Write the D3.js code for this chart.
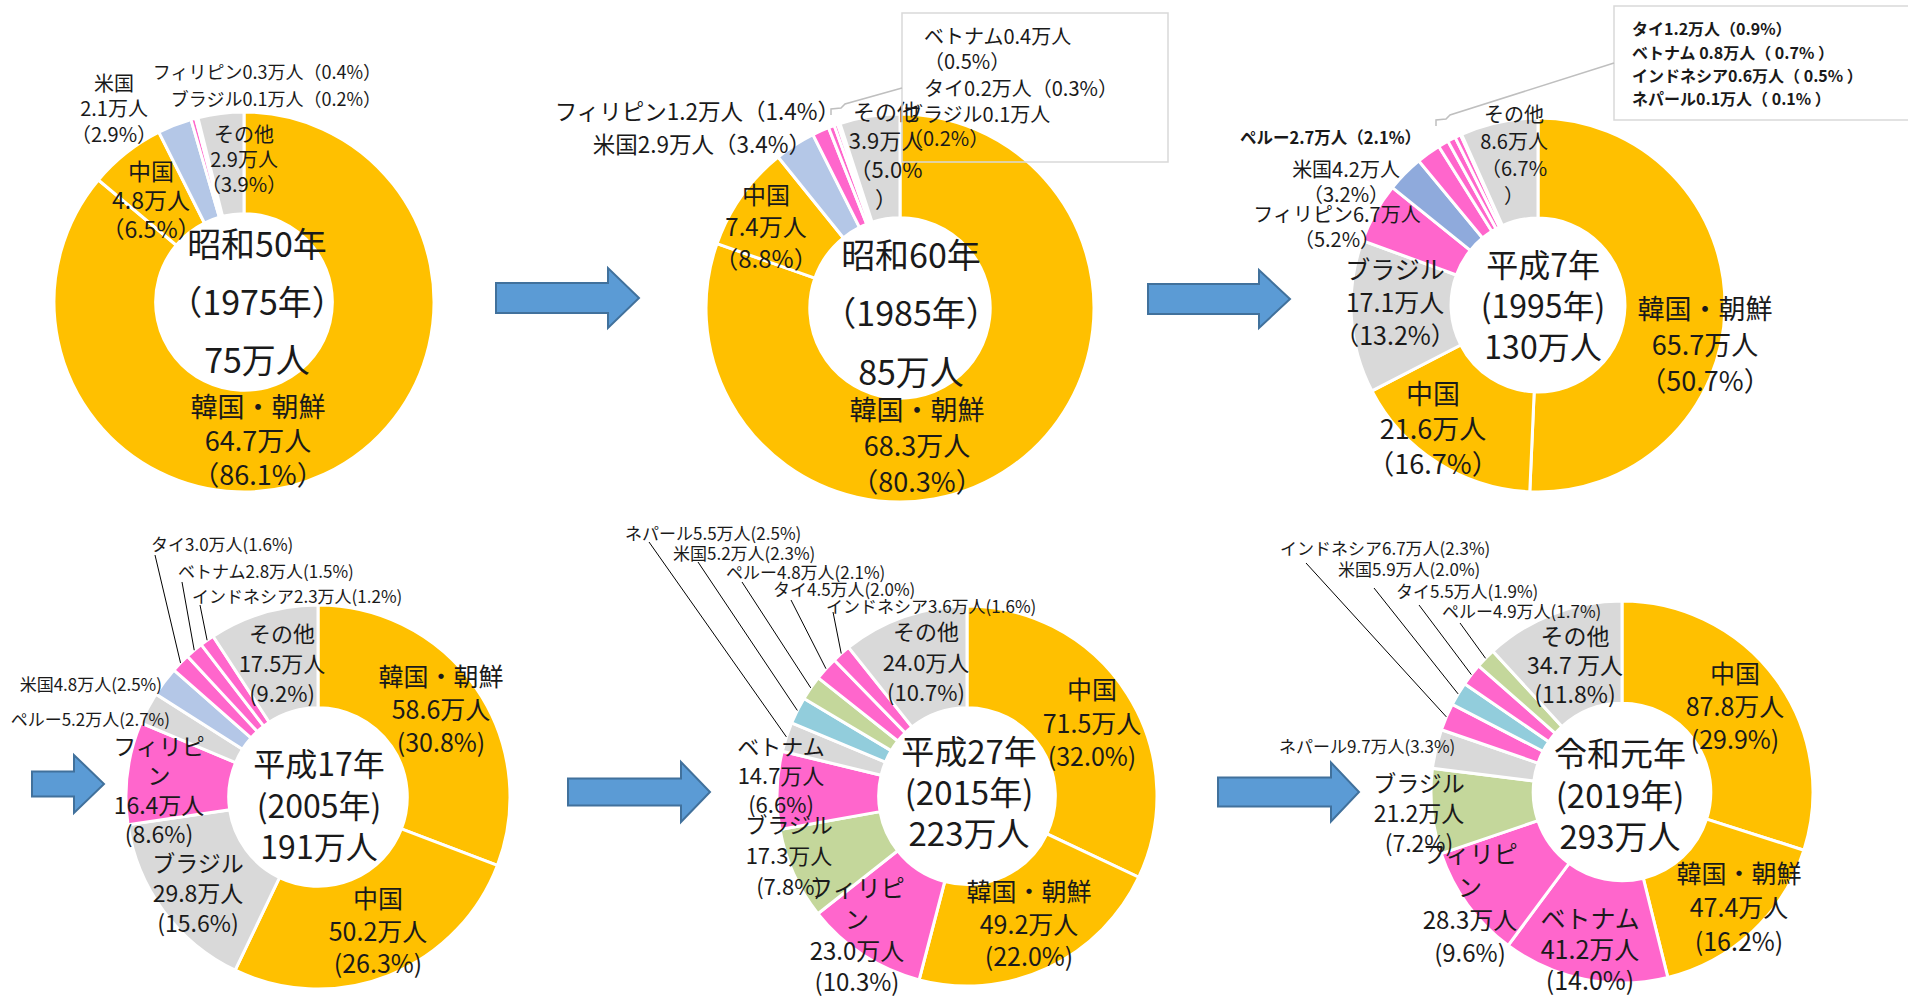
<!DOCTYPE html>
<html lang="ja">
<head>
<meta charset="utf-8">
<style>
  body { margin: 0; background: #fff; }
  svg text { font-family: "Noto Sans CJK JP", sans-serif; fill: #1a1a1a; }
</style>
</head>
<body>
<div id="chart"></div>
<script src="https://cdn.jsdelivr.net/npm/d3@7/dist/d3.min.js"></script>
<script>
// ---- data (values in 万人, shares in %) ----
var years = [1975, 1985, 1995, 2005, 2015, 2019];
var eras = ["昭和50年", "昭和60年", "平成7年", "平成17年", "平成27年", "令和元年"];
var totals = [75, 85, 130, 191, 223, 293];

var cat1975 = ["韓国・朝鮮", "中国", "米国", "フィリピン", "ブラジル", "その他"];
var val1975 = [64.7, 4.8, 2.1, 0.3, 0.1, 2.9];
var pct1975 = [86.1, 6.5, 2.9, 0.4, 0.2, 3.9];

var cat1985 = ["韓国・朝鮮", "中国", "米国", "フィリピン", "ベトナム", "タイ", "ブラジル", "その他"];
var val1985 = [68.3, 7.4, 2.9, 1.2, 0.4, 0.2, 0.1, 3.9];
var pct1985 = [80.3, 8.8, 3.4, 1.4, 0.5, 0.3, 0.2, 5.0];

var cat1995 = ["韓国・朝鮮", "中国", "ブラジル", "フィリピン", "米国", "ペルー", "タイ", "ベトナム", "インドネシア", "ネパール", "その他"];
var val1995 = [65.7, 21.6, 17.1, 6.7, 4.2, 2.7, 1.2, 0.8, 0.6, 0.1, 8.6];
var pct1995 = [50.7, 16.7, 13.2, 5.2, 3.2, 2.1, 0.9, 0.7, 0.5, 0.1, 6.7];

var cat2005 = ["韓国・朝鮮", "中国", "ブラジル", "フィリピン", "ペルー", "米国", "タイ", "ベトナム", "インドネシア", "その他"];
var val2005 = [58.6, 50.2, 29.8, 16.4, 5.2, 4.8, 3.0, 2.8, 2.3, 17.5];
var pct2005 = [30.8, 26.3, 15.6, 8.6, 2.7, 2.5, 1.6, 1.5, 1.2, 9.2];

var cat2015 = ["中国", "韓国・朝鮮", "フィリピン", "ブラジル", "ベトナム", "ネパール", "米国", "ペルー", "タイ", "インドネシア", "その他"];
var val2015 = [71.5, 49.2, 23.0, 17.3, 14.7, 5.5, 5.2, 4.8, 4.5, 3.6, 24.0];
var pct2015 = [32.0, 22.0, 10.3, 7.8, 6.6, 2.5, 2.3, 2.1, 2.0, 1.6, 10.7];

var cat2019 = ["中国", "韓国・朝鮮", "ベトナム", "フィリピン", "ブラジル", "ネパール", "インドネシア", "米国", "タイ", "ペルー", "その他"];
var val2019 = [87.8, 47.4, 41.2, 28.3, 21.2, 9.7, 6.7, 5.9, 5.5, 4.9, 34.7];
var pct2019 = [29.9, 16.2, 14.0, 9.6, 7.2, 3.3, 2.3, 2.0, 1.9, 1.7, 11.8];

// ---- styles ----
var ORANGE = "#FFC000", GREY = "#D9D9D9", PINK = "#FF66CC", GREEN = "#C4D79B";
var baseColors = {"韓国・朝鮮": ORANGE, "中国": ORANGE, "その他": GREY, "フィリピン": PINK,
  "ベトナム": PINK, "タイ": PINK, "インドネシア": PINK, "ブラジル": GREY, "ペルー": GREY,
  "ネパール": GREY, "米国": "#B4C7E7"};

// ---- layout ----
var W = 1908, H = 996;
var charts = [
  { cats: cat1975, vals: val1975, pcts: pct1975, cx: 244, cy: 302, r: 190,
    colors: {"ブラジル": "#FF7C80"},
    center: {dx: 13, dy: -60, lh: 58, size: 34, paren: "（{y}年）"},
    labels: [
      {n: "韓国・朝鮮", tpl: "{n}|{v}万人|（{p}%）", dx: 14, dy: 103, lh: 34, size: 27},
      {n: "中国", tpl: "{n}|{v}万人|（{p}%）", dx: -93, dy: -132, lh: 29, size: 23},
      {n: "米国", tpl: "{n}|{v}万人|（{p}%）", dx: -130, dy: -220, lh: 25.5, size: 20},
      {n: "フィリピン", tpl: "{n}{v}万人（{p}%）", dx: 137, dy: -231, size: 18, anchor: "end"},
      {n: "ブラジル", tpl: "{n}{v}万人（{p}%）", dx: 137, dy: -204, size: 18, anchor: "end"},
      {n: "その他", tpl: "{n}|{v}万人|（{p}%）", dx: 0, dy: -169, lh: 25, size: 20}
    ] },
  { cats: cat1985, vals: val1985, pcts: pct1985, cx: 900, cy: 308, r: 194,
    colors: {},
    center: {dx: 11, dy: -55, lh: 58.5, size: 34, paren: "（{y}年）"},
    box: {x: 902, y: 13, w: 266, h: 149, from: [902, 88], to: [845, 104]},
    labels: [
      {n: "韓国・朝鮮", tpl: "{n}|{v}万人|（{p}%）", dx: 17, dy: 100, lh: 36, size: 27},
      {n: "中国", tpl: "{n}|{v}万人|（{p}%）", dx: -134, dy: -115, lh: 32, size: 24},
      {n: "米国", tpl: "{n}{v}万人（{p}%）", dx: -89, dy: -165, size: 22.5, anchor: "end"},
      {n: "フィリピン", tpl: "{n}{v}万人（{p}%）", dx: -60, dy: -198, size: 22.5, anchor: "end"},
      {n: "ベトナム", tpl: "{n}{v}万人|（{p}%）", dx: 24, dy: -273, lh: 25, size: 20, anchor: "start"},
      {n: "タイ", tpl: "{n}{v}万人（{p}%）", dx: 24, dy: -221, size: 20, anchor: "start"},
      {n: "ブラジル", tpl: "{n}{v}万人|（{p}%）", dx: 3, dy: -195, lh: 24, size: 20, anchor: "start"},
      {n: "その他", tpl: "{n}|{v}万人|（{p}%|）", dx: -14, dy: -198, lh: 29, size: 22}
    ] },
  { cats: cat1995, vals: val1995, pcts: pct1995, cx: 1538, cy: 305, r: 187,
    colors: {"米国": "#8FAADC", "ペルー": PINK},
    center: {dx: 5, dy: -42, lh: 41, size: 32, paren: "({y}年)"},
    box: {x: 1614, y: 6, w: 310, h: 114, from: [1614, 63], to: [1450, 115]},
    labels: [
      {n: "韓国・朝鮮", tpl: "{n}|{v}万人|（{p}%）", dx: 167, dy: 2, lh: 36, size: 27},
      {n: "中国", tpl: "{n}|{v}万人|（{p}%）", dx: -105, dy: 87, lh: 35, size: 27},
      {n: "ブラジル", tpl: "{n}|{v}万人|（{p}%）", dx: -143, dy: -37, lh: 33, size: 25},
      {n: "フィリピン", tpl: "{n}{v}万人|（{p}%）", dx: -201, dy: -92, lh: 25, size: 20},
      {n: "米国", tpl: "{n}{v}万人|（{p}%）", dx: -192, dy: -137, lh: 25, size: 20},
      {n: "ペルー", tpl: "{n}{v}万人（{p}%）", dx: -298, dy: -168, size: 16.5, anchor: "start", bold: true},
      {n: "タイ", tpl: "{n}{v}万人（{p}%）", dx: 94, dy: -277, size: 16, anchor: "start", bold: true},
      {n: "ベトナム", tpl: "{n} {v}万人（ {p}% ）", dx: 94, dy: -253, size: 16, anchor: "start", bold: true},
      {n: "インドネシア", tpl: "{n}{v}万人（ {p}% ）", dx: 94, dy: -230, size: 16, anchor: "start", bold: true},
      {n: "ネパール", tpl: "{n}{v}万人（ {p}% ）", dx: 94, dy: -207, size: 16, anchor: "start", bold: true},
      {n: "その他", tpl: "{n}|{v}万人|（{p}%|）", dx: -24, dy: -192, lh: 27, size: 20}
    ] },
  { cats: cat2005, vals: val2005, pcts: pct2005, cx: 318, cy: 797, r: 192,
    colors: {},
    center: {dx: 1, dy: -35, lh: 41.5, size: 32, paren: "({y}年)"},
    labels: [
      {n: "韓国・朝鮮", tpl: "{n}|{v}万人|({p}%)", dx: 123, dy: -122, lh: 33, size: 25},
      {n: "中国", tpl: "{n}|{v}万人|({p}%)", dx: 60, dy: 100, lh: 32.5, size: 25},
      {n: "ブラジル", tpl: "{n}|{v}万人|({p}%)", dx: -120, dy: 65, lh: 30, size: 23},
      {n: "フィリピン", tpl: "{n}|{v}万人|({p}%)", wrap: 4, dx: -159, dy: -52, lh: 29.3, size: 23},
      {n: "ペルー", tpl: "{n}{v}万人({p}%)", dx: -148, dy: -79, size: 17, anchor: "end"},
      {n: "米国", tpl: "{n}{v}万人({p}%)", dx: -156, dy: -114, size: 17, anchor: "end"},
      {n: "タイ", tpl: "{n}{v}万人({p}%)", dx: -167, dy: -254, size: 17, anchor: "start", leader: [4, 12]},
      {n: "ベトナム", tpl: "{n}{v}万人({p}%)", dx: -140, dy: -227, size: 17, anchor: "start", leader: [4, 12]},
      {n: "インドネシア", tpl: "{n}{v}万人({p}%)", dx: -126, dy: -202, size: 17, anchor: "start", leader: [8, 10]},
      {n: "その他", tpl: "{n}|{v}万人|({p}%)", dx: -36, dy: -165, lh: 30, size: 22}
    ] },
  { cats: cat2015, vals: val2015, pcts: pct2015, cx: 967, cy: 796, r: 190,
    colors: {"米国": "#92CDDC", "ブラジル": GREEN, "ペルー": GREEN},
    center: {dx: 2, dy: -46, lh: 41, size: 33, paren: "({y}年)"},
    labels: [
      {n: "中国", tpl: "{n}|{v}万人|({p}%)", dx: 125, dy: -108, lh: 33.5, size: 25},
      {n: "韓国・朝鮮", tpl: "{n}|{v}万人|({p}%)", dx: 62, dy: 94, lh: 32.5, size: 25},
      {n: "フィリピン", tpl: "{n}|{v}万人|({p}%)", wrap: 4, dx: -110, dy: 90, lh: 31.5, size: 24},
      {n: "ブラジル", tpl: "{n}|{v}万人|({p}%)", dx: -178, dy: 27, lh: 31, size: 22},
      {n: "ベトナム", tpl: "{n}|{v}万人|({p}%)", dx: -186, dy: -51, lh: 29, size: 22},
      {n: "ネパール", tpl: "{n}{v}万人({p}%)", dx: -342, dy: -264, size: 17, anchor: "start", leader: [24, 10]},
      {n: "米国", tpl: "{n}{v}万人({p}%)", dx: -294, dy: -244, size: 17, anchor: "start", leader: [25, 10]},
      {n: "ペルー", tpl: "{n}{v}万人({p}%)", dx: -241, dy: -225, size: 17, anchor: "start", leader: [16, 11]},
      {n: "タイ", tpl: "{n}{v}万人({p}%)", dx: -194, dy: -208, size: 17, anchor: "start", leader: [18, 12]},
      {n: "インドネシア", tpl: "{n}{v}万人({p}%)", dx: -141, dy: -191, size: 17, anchor: "start", leader: [7, 7]},
      {n: "その他", tpl: "{n}|{v}万人|({p}%)", dx: -41, dy: -166, lh: 30.5, size: 22}
    ] },
  { cats: cat2019, vals: val2019, pcts: pct2019, cx: 1622, cy: 792, r: 191,
    colors: {"米国": "#92CDDC", "ブラジル": GREEN, "ペルー": GREEN},
    center: {dx: -2, dy: -40, lh: 41.5, size: 33, paren: "({y}年)"},
    labels: [
      {n: "中国", tpl: "{n}|{v}万人|({p}%)", dx: 113, dy: -120, lh: 33, size: 25},
      {n: "韓国・朝鮮", tpl: "{n}|{v}万人|({p}%)", dx: 117, dy: 80, lh: 34, size: 25},
      {n: "ベトナム", tpl: "{n}|{v}万人|({p}%)", dx: -32, dy: 125, lh: 31, size: 25},
      {n: "フィリピン", tpl: "{n}|{v}万人|({p}%)", wrap: 4, dx: -152, dy: 60, lh: 33, size: 24},
      {n: "ブラジル", tpl: "{n}|{v}万人|({p}%)", dx: -203, dy: -10, lh: 30, size: 23},
      {n: "ネパール", tpl: "{n}{v}万人({p}%)", dx: -343, dy: -47, size: 17, anchor: "start"},
      {n: "インドネシア", tpl: "{n}{v}万人({p}%)", dx: -342, dy: -245, size: 17, anchor: "start", leader: [26, 16]},
      {n: "米国", tpl: "{n}{v}万人({p}%)", dx: -284, dy: -224, size: 17, anchor: "start", leader: [36, 20]},
      {n: "タイ", tpl: "{n}{v}万人({p}%)", dx: -226, dy: -202, size: 17, anchor: "start", leader: [23, 15]},
      {n: "ペルー", tpl: "{n}{v}万人({p}%)", dx: -180, dy: -182, size: 17, anchor: "start", leader: [18, 13]},
      {n: "その他", tpl: "{n}|{v} 万人|({p}%)", dx: -47, dy: -157, lh: 29, size: 23}
    ] }
];

// arrows: left x, centre y, tip x, shaft height, head height, head length
var arrows = [
  [496, 298, 639, 30, 60, 31],
  [1148, 299, 1290, 30, 58, 31],
  [32, 784, 104, 25, 58, 30],
  [568, 792, 710, 27, 60, 29],
  [1218, 792, 1359, 29, 59, 28]
];

var svg = d3.select("#chart").append("svg")
    .attr("width", W)
    .attr("height", H);

var pie = d3.pie().sort(null).value(function (d) { return d.pct; });

charts.forEach(function (c, ci) {
  var rows = c.cats.map(function (n, i) { return {name: n, val: c.vals[i], pct: c.pcts[i]}; });
  var arcs = pie(rows);
  var arc = d3.arc().innerRadius(c.r * 0.465).outerRadius(c.r);
  var edge = d3.arc().innerRadius(c.r).outerRadius(c.r);
  var g = svg.append("g").attr("transform", "translate(" + c.cx + "," + c.cy + ")");

  g.selectAll("path.slice")
      .data(arcs)
    .enter().append("path")
      .attr("class", "slice")
      .attr("d", arc)
      .attr("fill", function (d) { return c.colors[d.data.name] || baseColors[d.data.name]; })
      .attr("stroke", "#fff")
      .attr("stroke-width", 3);

  // callout box for the tiny slices
  if (c.box) {
    var b = c.box;
    svg.append("rect")
        .attr("x", b.x).attr("y", b.y).attr("width", b.w).attr("height", b.h)
        .attr("fill", "none").attr("stroke", "#D9D9D9").attr("stroke-width", 1.5);
    var t = b.to;
    svg.append("path")
        .attr("d", "M" + b.from + "L" + t + "L" + (t[0] - 4) + "," + (t[1] + 4) +
             "L" + (t[0] - 14) + "," + (t[1] + 5) + "L" + (t[0] - 14) + "," + (t[1] + 11))
        .attr("fill", "none").attr("stroke", "#BFBFBF").attr("stroke-width", 1.5);
  }

  // centre text
  var ct = c.center;
  var centerLines = [eras[ci], ct.paren.replace("{y}", years[ci]), totals[ci] + "万人"];
  g.append("text")
      .attr("text-anchor", "middle")
      .attr("font-size", ct.size)
    .selectAll("tspan")
      .data(centerLines)
    .enter().append("tspan")
      .attr("x", ct.dx)
      .attr("y", function (d, i) { return ct.dy + i * ct.lh; })
      .attr("dominant-baseline", "central")
      .text(function (d) { return d; });

  // slice labels
  c.labels.forEach(function (L) {
    var d = arcs.find(function (a) { return a.data.name === L.n; });
    var name = L.wrap ? L.n.slice(0, L.wrap) + "|" + L.n.slice(L.wrap) : L.n;
    var lines = L.tpl.replace("{n}", name)
        .replace("{v}", d.data.val.toFixed(1))
        .replace("{p}", d.data.pct.toFixed(1))
        .split("|");
    g.append("text")
        .attr("text-anchor", L.anchor || "middle")
        .attr("font-size", L.size)
        .attr("font-weight", L.bold ? "bold" : null)
      .selectAll("tspan")
        .data(lines)
      .enter().append("tspan")
        .attr("x", L.dx)
        .attr("y", function (s, i) { return L.dy + i * (L.lh || 0); })
        .attr("dominant-baseline", "central")
        .text(function (s) { return s; });

    if (L.leader) {
      var p = edge.centroid(d);
      g.append("line")
          .attr("x1", L.dx + L.leader[0]).attr("y1", L.dy + L.leader[1])
          .attr("x2", p[0]).attr("y2", p[1])
          .attr("stroke", "#000").attr("stroke-width", 1);
    }
  });
});

// blue arrows between the years
svg.selectAll("path.arrow")
    .data(arrows)
  .enter().append("path")
    .attr("class", "arrow")
    .attr("d", function (a) {
      var x0 = a[0], y = a[1], x1 = a[2], sh = a[3] / 2, hh = a[4] / 2, hb = x1 - a[5];
      return "M" + x0 + "," + (y - sh) + "L" + hb + "," + (y - sh) + "L" + hb + "," + (y - hh) +
             "L" + x1 + "," + y + "L" + hb + "," + (y + hh) + "L" + hb + "," + (y + sh) +
             "L" + x0 + "," + (y + sh) + "Z";
    })
    .attr("fill", "#5B9BD5")
    .attr("stroke", "#41719C")
    .attr("stroke-width", 2);
</script>
</body>
</html>
